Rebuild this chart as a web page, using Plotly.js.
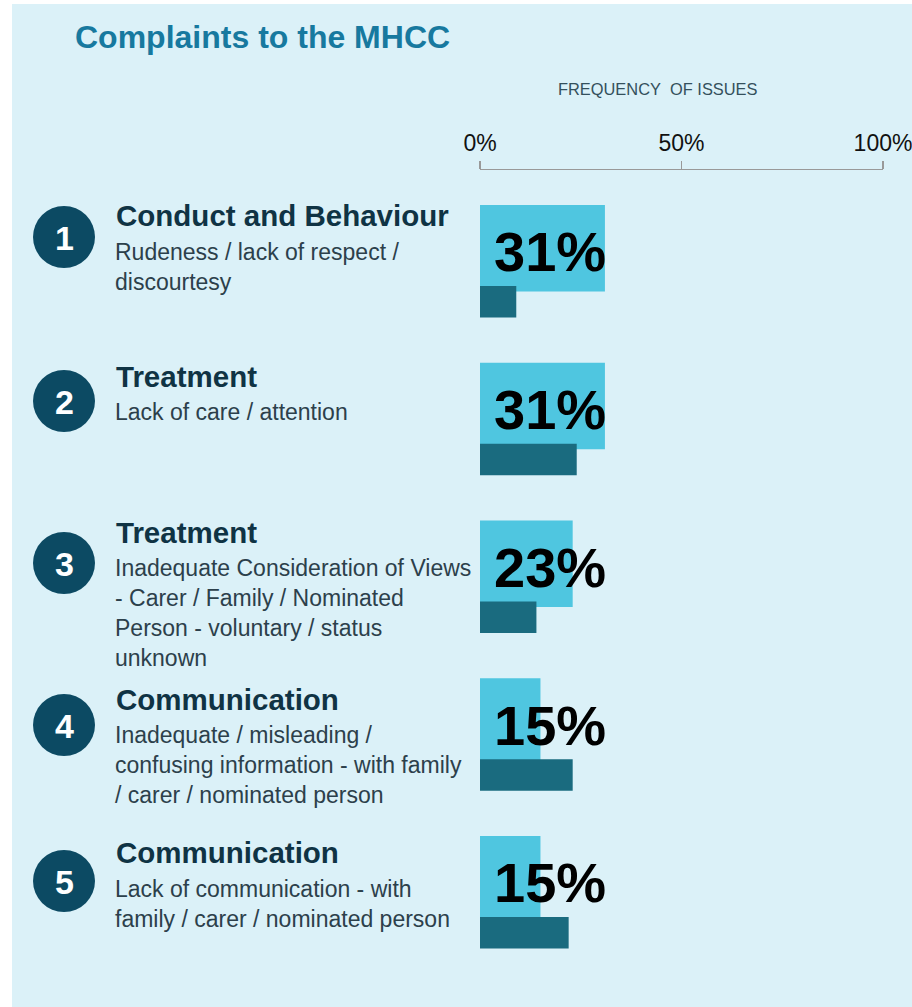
<!DOCTYPE html>
<html>
<head>
<meta charset="utf-8">
<script src="https://cdn.plot.ly/plotly-3.0.1.min.js"></script>
<style>html,body{margin:0;padding:0;background:#fff;}#chart{width:912px;height:1007px;}</style>
</head>
<body>
<div id="chart"></div>
<script>
// ---- data ----
const rankLabels = ['1', '2', '3', '4', '5'];
const headings = ['Conduct and Behaviour', 'Treatment', 'Treatment', 'Communication', 'Communication'];
const descriptions = [
  'Rudeness / lack of respect /<br>discourtesy',
  'Lack of care / attention',
  'Inadequate Consideration of Views<br>- Carer / Family / Nominated<br>Person - voluntary / status<br>unknown',
  'Inadequate / misleading /<br>confusing information - with family<br>/ carer / nominated person',
  'Lack of communication - with<br>family / carer / nominated person'
];
const frequencyPct = [31, 31, 23, 15, 15];
const secondaryPct = [9, 24, 14, 23, 22];
const tickValues = [0, 50, 100];
const tickLabels = ['0%', '50%', '100%'];
const chartTitle = 'Complaints to the MHCC';
const axisCaption = 'FREQUENCY\u00A0 OF ISSUES';

// ---- layout geometry (pixels) ----
const W = 912, H = 1007;
const L = 480, R = 29, T = 170, B = 7;
const PW = W - L - R, PH = H - T - B;
const ROW0 = 205, ROWU = 157.75;          // pixel top of first row, pixels per row
const xp = p => (p - L) / PW;              // pixel x -> paper
const yp = p => (H - B - p) / PH;          // pixel y -> paper
const yv = p => (p - ROW0) / ROWU;         // pixel y -> y data
const xv = p => (p - L) / PW * 100;        // pixel x -> x data

const headBase = [225.7, 386.7, 542.3, 709.3, 862.7];
const subBase  = [260, 420, 576, 742.7, 896.7];
const circleY  = [237, 401, 563, 725, 881];

const rows = rankLabels.map((_, i) => i);

const traces = [
  {
    type: 'bar', orientation: 'h', y: rows, x: frequencyPct,
    width: 86.5 / ROWU, offset: 0,
    marker: {color: '#4fc6e0', line: {width: 0}},
    hoverinfo: 'x', showlegend: false
  },
  {
    type: 'bar', orientation: 'h', y: rows, x: secondaryPct,
    width: 31.5 / ROWU, offset: 81 / ROWU,
    marker: {color: '#1a6b7f', line: {width: 0}},
    hoverinfo: 'x', showlegend: false
  }
];

const FONT = 'Liberation Sans, Arial, sans-serif';
const shapes = [
  {type: 'rect', xref: 'paper', yref: 'paper', layer: 'below',
   x0: xp(12), x1: xp(W + 5), y0: yp(H + 5), y1: yp(4),
   fillcolor: '#dbf1f8', line: {width: 0}}
];
const annotations = [
  {xref: 'paper', yref: 'paper', x: xp(557.5), y: yp(79.5), xanchor: 'left', yanchor: 'top',
   text: axisCaption, showarrow: false, borderpad: 0, borderwidth: 0,
   font: {family: FONT, size: 16.4, color: '#34505c'}}
];

rows.forEach(i => {
  shapes.push({type: 'circle', xref: 'paper', yref: 'y', layer: 'above',
    x0: xp(33), x1: xp(95), y0: yv(circleY[i] - 31), y1: yv(circleY[i] + 31),
    fillcolor: '#0c4a63', line: {width: 0}});
  annotations.push({xref: 'paper', yref: 'y', x: xp(64), y: yv(circleY[i] + 1),
    xanchor: 'center', yanchor: 'middle', text: '<b>' + rankLabels[i] + '</b>',
    showarrow: false, borderpad: 0, borderwidth: 0,
    font: {family: FONT, size: 34, color: '#ffffff'}});
  annotations.push({xref: 'paper', yref: 'y', x: xp(116), y: yv(headBase[i] - 26.6),
    xanchor: 'left', yanchor: 'top', text: '<b>' + headings[i] + '</b>', align: 'left',
    showarrow: false, borderpad: 0, borderwidth: 0,
    font: {family: FONT, size: 29.5, color: '#0f3344'}});
  annotations.push({xref: 'paper', yref: 'y', x: xp(114.5), y: yv(subBase[i] - 20.8),
    xanchor: 'left', yanchor: 'top', text: descriptions[i], align: 'left',
    showarrow: false, borderpad: 0, borderwidth: 0,
    font: {family: FONT, size: 23, color: '#2c404b'}});
  annotations.push({xref: 'x', yref: 'y', x: xv(493.5), y: i + 15.3 / ROWU,
    xanchor: 'left', yanchor: 'top', text: '<b>' + frequencyPct[i] + '%</b>',
    showarrow: false, borderpad: 0, borderwidth: 0,
    font: {family: FONT, size: 56, color: '#000000'}});
});

const layout = {
  width: W, height: H,
  margin: {l: L, r: R, t: T, b: B, pad: 0},
  paper_bgcolor: '#ffffff', plot_bgcolor: 'rgba(0,0,0,0)',
  barmode: 'overlay',
  title: {text: '<b>' + chartTitle + '</b>', xref: 'container', yref: 'container',
    x: 75 / W, xanchor: 'left', y: 1 - 37 / H, yanchor: 'middle',
    font: {family: FONT, size: 32, color: '#17799f'}},
  xaxis: {range: [0, 100], side: 'top', tickvals: tickValues, ticktext: tickLabels,
    ticks: 'outside', ticklen: 8, tickwidth: 1.5, tickcolor: '#999999',
    showline: true, linecolor: '#999999', linewidth: 1.5, ticklabelstandoff: 0,
    ticklabeloverflow: 'allow',
    showgrid: false, zeroline: false, fixedrange: true,
    tickfont: {family: FONT, size: 23, color: '#111111'}},
  yaxis: {range: [yv(H - B), yv(T)], visible: false, showgrid: false, zeroline: false, fixedrange: true},
  shapes: shapes,
  annotations: annotations,
  showlegend: false
};

Plotly.newPlot('chart', traces, layout, {displayModeBar: false, staticPlot: true});
</script>
</body>
</html>
